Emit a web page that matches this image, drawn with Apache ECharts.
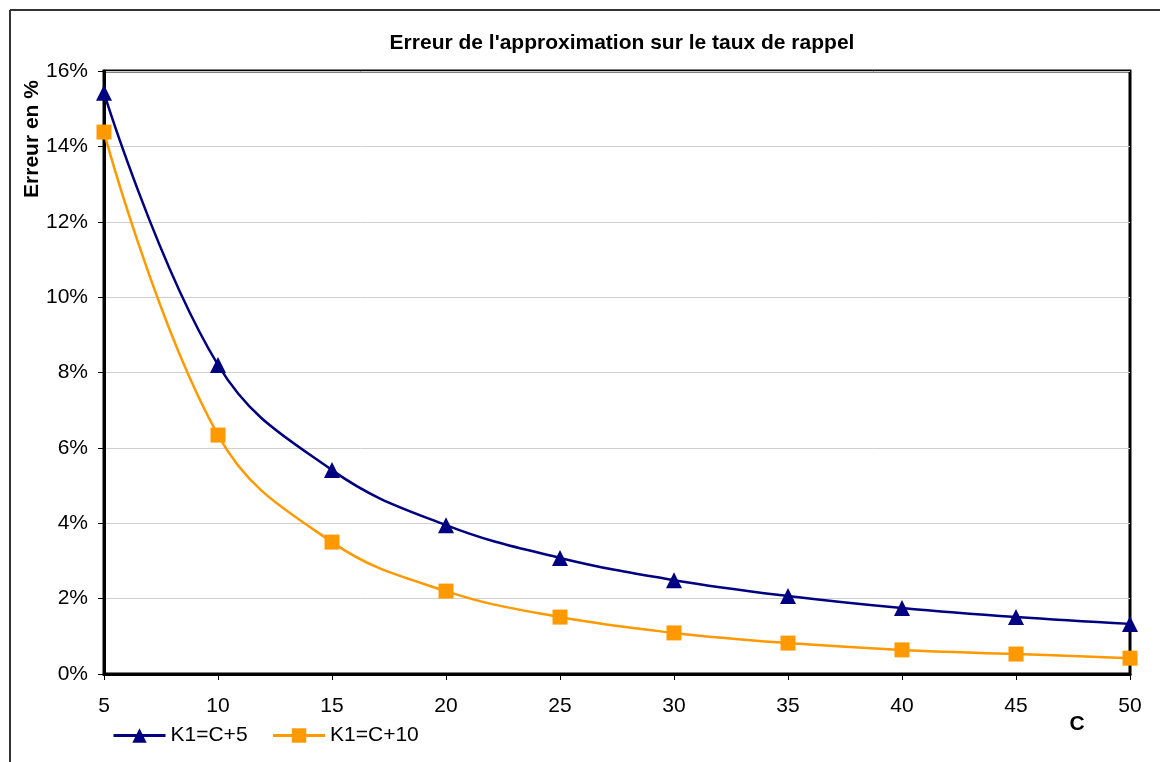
<!DOCTYPE html>
<html>
<head>
<meta charset="utf-8">
<title>Erreur de l'approximation</title>
<script src="https://cdn.jsdelivr.net/npm/echarts@6/dist/echarts.min.js"></script>
<style>
    html, body { margin: 0; padding: 0; background: #fff; }
    #chart { width: 1160px; height: 762px; }
</style>
</head>
<body>
<div id="chart"></div>
<script>
// valeurs (erreur en %)
const cValues = [5, 10, 15, 20, 25, 30, 35, 40, 45, 50];
const errK1C5 = [15.42, 8.20, 5.41, 3.95, 3.08, 2.49, 2.07, 1.75, 1.51, 1.33];
const errK1C10 = [14.38, 6.34, 3.50, 2.20, 1.51, 1.09, 0.82, 0.64, 0.53, 0.42];
const seriesNames = ['K1=C+5', 'K1=C+10'];

const font = 'Liberation Sans, Arial, sans-serif';

let chart = echarts.init(document.getElementById('chart'));

const toPairs = function (ys) {
    return cValues.map(function (c, i) { return [c, ys[i]]; });
};

const option = {
    animation: false,
    textStyle: { fontFamily: font },
    title: {
        text: "Erreur de l'approximation sur le taux de rappel",
        left: 617,
        top: 28,
        textAlign: 'center',
        textStyle: { fontSize: 21, fontWeight: 'bold', color: '#000', fontFamily: font }
    },
    grid: {
        left: 104,
        right: 30,
        top: 71,
        bottom: 88,
        show: true,
        borderColor: '#000',
        borderWidth: 3,
        backgroundColor: '#fff'
    },
    legend: {
        left: 107,
        top: 720,
        itemWidth: 52,
        itemHeight: 18,
        itemGap: 24,
        lineStyle: { width: 3 },
        textStyle: { fontSize: 21, color: '#000', fontFamily: font },
        data: seriesNames
    },
    xAxis: {
        type: 'value',
        min: 5,
        max: 50,
        interval: 5,
        axisLine: { lineStyle: { color: '#000', width: 3 } },
        axisTick: { show: true, length: 6, lineStyle: { color: '#000', width: 1 } },
        axisLabel: { fontSize: 21, color: '#000', margin: 22, fontFamily: font },
        splitLine: { show: false }
    },
    yAxis: {
        type: 'value',
        min: 0,
        max: 16,
        interval: 2,
        axisLine: { show: true, lineStyle: { color: '#000', width: 3 } },
        axisTick: { show: true, length: 6, lineStyle: { color: '#000', width: 1 } },
        axisLabel: { fontSize: 21, color: '#000', margin: 16, formatter: '{value}%', fontFamily: font },
        splitLine: { show: true, lineStyle: { color: '#cfcfcf', width: 1 } }
    },
    graphic: [
        // cadre extérieur (haut et gauche seulement, comme sur l'original)
        { type: 'line', shape: { x1: 10, y1: 10, x2: 1160, y2: 10 }, style: { stroke: '#333', lineWidth: 2 } },
        { type: 'line', shape: { x1: 10, y1: 10, x2: 10, y2: 762 }, style: { stroke: '#333', lineWidth: 2 } },
        {
            type: 'text',
            x: 32,
            y: 139,
            rotation: Math.PI / 2,
            style: {
                text: 'Erreur en %',
                fontSize: 21,
                fontWeight: 'bold',
                fontFamily: font,
                fill: '#000',
                align: 'center',
                verticalAlign: 'middle'
            }
        },
        {
            type: 'text',
            x: 1077,
            y: 724,
            style: {
                text: 'C',
                fontSize: 21,
                fontWeight: 'bold',
                fontFamily: font,
                fill: '#000',
                align: 'center',
                verticalAlign: 'middle'
            }
        }
    ],
    series: [
        {
            name: seriesNames[0],
            type: 'line',
            smooth: 0.4,
            clip: false,
            data: toPairs(errK1C5),
            symbol: 'triangle',
            symbolSize: 16,
            itemStyle: { color: '#000080' },
            lineStyle: { color: '#000080', width: 2.5 }
        },
        {
            name: seriesNames[1],
            type: 'line',
            smooth: 0.4,
            clip: false,
            data: toPairs(errK1C10),
            symbol: 'rect',
            symbolSize: 15,
            itemStyle: { color: '#FF9900' },
            lineStyle: { color: '#FF9900', width: 2.5 }
        }
    ]
};

chart.setOption(option);

window.addEventListener('resize', function () {
    chart.resize();
});
</script>
</body>
</html>
